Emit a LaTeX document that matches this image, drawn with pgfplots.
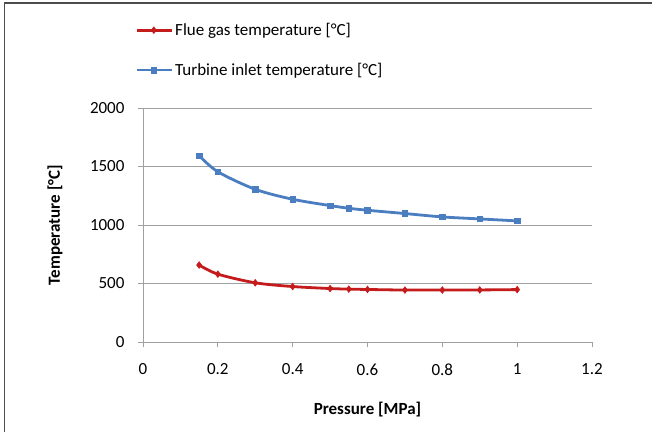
\documentclass[border=0pt]{standalone}
\usepackage{fontspec}
\setmainfont{Carlito}
\usepackage{pgfplots}
\pgfplotsset{compat=1.18}
\definecolor{flue}{RGB}{196,28,28}
\definecolor{turb}{RGB}{74,126,192}
\definecolor{gridc}{RGB}{160,160,160}
\begin{document}
\begin{tikzpicture}[x=1pt,y=1pt]
\path[use as bounding box] (0,0) rectangle (652,432);
\draw[gray!60!black, line width=1.2pt] (4.5,0) -- (4.5,429) -- (652,429);
\begin{axis}[
  at={(143pt,90pt)}, anchor=south west,
  scale only axis, width=449pt, height=234pt,
  xmin=0, xmax=1.2, ymin=0, ymax=2000,
  xtick={0,0.2,0.4,0.6,0.8,1,1.2},
  ytick={0,500,1000,1500,2000},
  xticklabels={0,0.2,0.4,0.6,0.8,1,1.2},
  yticklabels={0,500,1000,1500,2000},
  axis lines*=left,
  axis line style={gridc, line width=0.8pt},
  tick style={gridc, line width=0.8pt},
  tick align=outside, major tick length=5pt,
  ymajorgrids, grid style={gridc, line width=0.8pt},
  font=\fontsize{17}{20}\selectfont,
  tick label style={font=\fontsize{17}{20}\selectfont, text=black},
  /pgf/number format/assume math mode=true,
  xticklabel style={yshift=-13pt},
  yticklabel style={xshift=-10pt},
  xlabel={\textbf{Pressure [MPa]}},
  ylabel={\textbf{Temperature [°C]}},
  xlabel style={at={(axis description cs:0.5,0)}, anchor=center, yshift=-68pt},
  ylabel style={at={(axis description cs:0,0.5)}, anchor=center, rotate=0, xshift=0pt, yshift=88pt},
  legend style={at={(axis description cs:-0.024,1.38)}, anchor=north west, draw=none, fill=none,
    font=\fontsize{17}{20}\selectfont, row sep=22pt, cells={anchor=west}},
  legend image code/.code={
    \draw[mark repeat=2,mark phase=2] plot coordinates {(0pt,0pt) (17pt,0pt) (35pt,0pt)};
  },
]
\addplot[flue, line width=2.8pt, smooth, tension=0.5, mark=diamond*, mark size=3.4pt, mark options={solid, line width=0.5pt}]
coordinates {(0.15,658) (0.2,580) (0.3,506) (0.4,474) (0.5,457) (0.55,452) (0.6,449) (0.7,444) (0.8,444) (0.9,445) (1.0,448)};
\addlegendentry{Flue gas temperature [°C]}
\addplot[turb, line width=2.8pt, smooth, tension=0.5, mark=square*, mark size=2.8pt, mark options={solid, line width=0.5pt}]
coordinates {(0.15,1593) (0.2,1455) (0.3,1305) (0.4,1220) (0.5,1166) (0.55,1143) (0.6,1126) (0.7,1098) (0.8,1069) (0.9,1052) (1.0,1035)};
\addlegendentry{Turbine inlet temperature [°C]}
\end{axis}
\end{tikzpicture}
\end{document}
